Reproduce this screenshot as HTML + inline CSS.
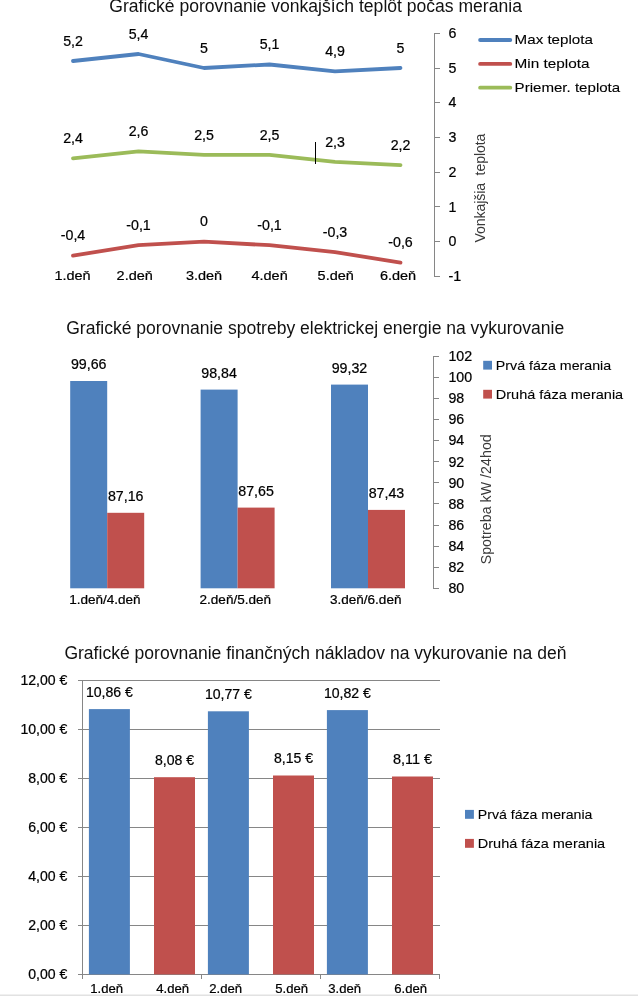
<!DOCTYPE html>
<html lang="sk"><head><meta charset="utf-8"><title>Grafické porovnanie</title>
<style>
html,body{margin:0;padding:0;background:#fff}
svg{display:block}
text{font-family:"Liberation Sans",sans-serif}
</style></head><body>
<svg width="638" height="996" viewBox="0 0 638 996">
<rect width="638" height="996" fill="#fff"/>
<text x="315.6" y="12.2" font-size="17.5" text-anchor="middle" fill="#111" stroke="#111" stroke-width="0" textLength="412.6" lengthAdjust="spacingAndGlyphs">Grafické porovnanie vonkajších teplôt počas merania</text>
<line x1="434.0" y1="33.0" x2="434.0" y2="277.0" stroke="#868686" stroke-width="1" shape-rendering="crispEdges"/>
<line x1="434.0" y1="33.2" x2="439.5" y2="33.2" stroke="#868686" stroke-width="1" shape-rendering="crispEdges"/>
<text x="448.6" y="37.9" font-size="14.1" text-anchor="start" fill="#000" stroke="#000" stroke-width="0.22" textLength="7.9" lengthAdjust="spacingAndGlyphs">6</text>
<line x1="434.0" y1="68.0" x2="439.5" y2="68.0" stroke="#868686" stroke-width="1" shape-rendering="crispEdges"/>
<text x="448.6" y="72.7" font-size="14.1" text-anchor="start" fill="#000" stroke="#000" stroke-width="0.22" textLength="7.9" lengthAdjust="spacingAndGlyphs">5</text>
<line x1="434.0" y1="102.7" x2="439.5" y2="102.7" stroke="#868686" stroke-width="1" shape-rendering="crispEdges"/>
<text x="448.6" y="107.4" font-size="14.1" text-anchor="start" fill="#000" stroke="#000" stroke-width="0.22" textLength="7.9" lengthAdjust="spacingAndGlyphs">4</text>
<line x1="434.0" y1="137.4" x2="439.5" y2="137.4" stroke="#868686" stroke-width="1" shape-rendering="crispEdges"/>
<text x="448.6" y="142.1" font-size="14.1" text-anchor="start" fill="#000" stroke="#000" stroke-width="0.22" textLength="7.9" lengthAdjust="spacingAndGlyphs">3</text>
<line x1="434.0" y1="172.2" x2="439.5" y2="172.2" stroke="#868686" stroke-width="1" shape-rendering="crispEdges"/>
<text x="448.6" y="176.9" font-size="14.1" text-anchor="start" fill="#000" stroke="#000" stroke-width="0.22" textLength="7.9" lengthAdjust="spacingAndGlyphs">2</text>
<line x1="434.0" y1="206.9" x2="439.5" y2="206.9" stroke="#868686" stroke-width="1" shape-rendering="crispEdges"/>
<text x="448.6" y="211.6" font-size="14.1" text-anchor="start" fill="#000" stroke="#000" stroke-width="0.22" textLength="7.9" lengthAdjust="spacingAndGlyphs">1</text>
<line x1="434.0" y1="241.7" x2="439.5" y2="241.7" stroke="#868686" stroke-width="1" shape-rendering="crispEdges"/>
<text x="448.6" y="246.4" font-size="14.1" text-anchor="start" fill="#000" stroke="#000" stroke-width="0.22" textLength="7.9" lengthAdjust="spacingAndGlyphs">0</text>
<line x1="434.0" y1="276.4" x2="439.5" y2="276.4" stroke="#868686" stroke-width="1" shape-rendering="crispEdges"/>
<text x="448.6" y="281.1" font-size="14.1" text-anchor="start" fill="#000" stroke="#000" stroke-width="0.22" textLength="12.7" lengthAdjust="spacingAndGlyphs">-1</text>
<text transform="translate(485,242.6) rotate(-90)" font-size="14.15" fill="#3a3a3a" textLength="109" lengthAdjust="spacing" style="white-space:pre">Vonkajšia  teplota</text>
<polyline points="73.0,61.0 138.5,54.0 204.0,68.0 269.5,64.5 335.0,71.4 400.5,68.0" fill="none" stroke="#4F81BD" stroke-width="3.8" stroke-linecap="round" stroke-linejoin="round"/>
<text x="73.0" y="45.7" font-size="14.1" text-anchor="middle" fill="#000" stroke="#000" stroke-width="0.22" textLength="19.7" lengthAdjust="spacingAndGlyphs">5,2</text>
<text x="138.5" y="38.7" font-size="14.1" text-anchor="middle" fill="#000" stroke="#000" stroke-width="0.22" textLength="19.7" lengthAdjust="spacingAndGlyphs">5,4</text>
<text x="204.0" y="52.7" font-size="14.1" text-anchor="middle" fill="#000" stroke="#000" stroke-width="0.22" textLength="7.9" lengthAdjust="spacingAndGlyphs">5</text>
<text x="269.5" y="49.2" font-size="14.1" text-anchor="middle" fill="#000" stroke="#000" stroke-width="0.22" textLength="19.7" lengthAdjust="spacingAndGlyphs">5,1</text>
<text x="335.0" y="56.1" font-size="14.1" text-anchor="middle" fill="#000" stroke="#000" stroke-width="0.22" textLength="19.7" lengthAdjust="spacingAndGlyphs">4,9</text>
<text x="400.5" y="52.7" font-size="14.1" text-anchor="middle" fill="#000" stroke="#000" stroke-width="0.22" textLength="7.9" lengthAdjust="spacingAndGlyphs">5</text>
<polyline points="73.0,255.6 138.5,245.2 204.0,241.7 269.5,245.2 335.0,252.1 400.5,262.6" fill="none" stroke="#C0504D" stroke-width="3.8" stroke-linecap="round" stroke-linejoin="round"/>
<text x="73.0" y="240.3" font-size="14.1" text-anchor="middle" fill="#000" stroke="#000" stroke-width="0.22" textLength="24.5" lengthAdjust="spacingAndGlyphs">-0,4</text>
<text x="138.5" y="229.9" font-size="14.1" text-anchor="middle" fill="#000" stroke="#000" stroke-width="0.22" textLength="24.5" lengthAdjust="spacingAndGlyphs">-0,1</text>
<text x="204.0" y="226.4" font-size="14.1" text-anchor="middle" fill="#000" stroke="#000" stroke-width="0.22" textLength="7.9" lengthAdjust="spacingAndGlyphs">0</text>
<text x="269.5" y="229.9" font-size="14.1" text-anchor="middle" fill="#000" stroke="#000" stroke-width="0.22" textLength="24.5" lengthAdjust="spacingAndGlyphs">-0,1</text>
<text x="335.0" y="236.8" font-size="14.1" text-anchor="middle" fill="#000" stroke="#000" stroke-width="0.22" textLength="24.5" lengthAdjust="spacingAndGlyphs">-0,3</text>
<text x="400.5" y="247.2" font-size="14.1" text-anchor="middle" fill="#000" stroke="#000" stroke-width="0.22" textLength="24.5" lengthAdjust="spacingAndGlyphs">-0,6</text>
<polyline points="73.0,158.3 138.5,151.3 204.0,154.8 269.5,154.8 335.0,161.8 400.5,165.2" fill="none" stroke="#9BBB59" stroke-width="3.8" stroke-linecap="round" stroke-linejoin="round"/>
<text x="73.0" y="143.0" font-size="14.1" text-anchor="middle" fill="#000" stroke="#000" stroke-width="0.22" textLength="19.7" lengthAdjust="spacingAndGlyphs">2,4</text>
<text x="138.5" y="136.0" font-size="14.1" text-anchor="middle" fill="#000" stroke="#000" stroke-width="0.22" textLength="19.7" lengthAdjust="spacingAndGlyphs">2,6</text>
<text x="204.0" y="139.5" font-size="14.1" text-anchor="middle" fill="#000" stroke="#000" stroke-width="0.22" textLength="19.7" lengthAdjust="spacingAndGlyphs">2,5</text>
<text x="269.5" y="139.5" font-size="14.1" text-anchor="middle" fill="#000" stroke="#000" stroke-width="0.22" textLength="19.7" lengthAdjust="spacingAndGlyphs">2,5</text>
<text x="335.0" y="146.5" font-size="14.1" text-anchor="middle" fill="#000" stroke="#000" stroke-width="0.22" textLength="19.7" lengthAdjust="spacingAndGlyphs">2,3</text>
<text x="400.5" y="149.9" font-size="14.1" text-anchor="middle" fill="#000" stroke="#000" stroke-width="0.22" textLength="19.7" lengthAdjust="spacingAndGlyphs">2,2</text>
<line x1="315.5" y1="142.0" x2="315.5" y2="163.5" stroke="#000" stroke-width="1" shape-rendering="crispEdges"/>
<text x="72.5" y="279.7" font-size="13.4" text-anchor="middle" fill="#000" stroke="#000" stroke-width="0.22" textLength="36.2" lengthAdjust="spacingAndGlyphs">1.deň</text>
<text x="134.7" y="279.7" font-size="13.4" text-anchor="middle" fill="#000" stroke="#000" stroke-width="0.22" textLength="36.2" lengthAdjust="spacingAndGlyphs">2.deň</text>
<text x="204.0" y="279.7" font-size="13.4" text-anchor="middle" fill="#000" stroke="#000" stroke-width="0.22" textLength="36.2" lengthAdjust="spacingAndGlyphs">3.deň</text>
<text x="269.6" y="279.7" font-size="13.4" text-anchor="middle" fill="#000" stroke="#000" stroke-width="0.22" textLength="36.2" lengthAdjust="spacingAndGlyphs">4.deň</text>
<text x="335.7" y="279.7" font-size="13.4" text-anchor="middle" fill="#000" stroke="#000" stroke-width="0.22" textLength="36.2" lengthAdjust="spacingAndGlyphs">5.deň</text>
<text x="398.0" y="279.7" font-size="13.4" text-anchor="middle" fill="#000" stroke="#000" stroke-width="0.22" textLength="36.2" lengthAdjust="spacingAndGlyphs">6.deň</text>
<line x1="480.1" y1="40.0" x2="510.3" y2="40.0" stroke="#4F81BD" stroke-width="3.8" stroke-linecap="round"/>
<text x="514.6" y="44.4" font-size="13.4" text-anchor="start" fill="#000" stroke="#000" stroke-width="0.1" textLength="78.3" lengthAdjust="spacingAndGlyphs">Max teplota</text>
<line x1="480.1" y1="63.9" x2="510.3" y2="63.9" stroke="#C0504D" stroke-width="3.8" stroke-linecap="round"/>
<text x="514.6" y="68.2" font-size="13.4" text-anchor="start" fill="#000" stroke="#000" stroke-width="0.1" textLength="75.0" lengthAdjust="spacingAndGlyphs">Min teplota</text>
<line x1="480.1" y1="87.7" x2="510.3" y2="87.7" stroke="#9BBB59" stroke-width="3.8" stroke-linecap="round"/>
<text x="514.6" y="92.1" font-size="13.4" text-anchor="start" fill="#000" stroke="#000" stroke-width="0.1" textLength="105.6" lengthAdjust="spacingAndGlyphs">Priemer. teplota</text>
<text x="315.2" y="333.7" font-size="17.5" text-anchor="middle" fill="#111" stroke="#111" stroke-width="0" textLength="498.0" lengthAdjust="spacingAndGlyphs">Grafické porovnanie spotreby elektrickej energie na vykurovanie</text>
<line x1="433.5" y1="356.0" x2="433.5" y2="589.0" stroke="#868686" stroke-width="1" shape-rendering="crispEdges"/>
<line x1="433.5" y1="356.3" x2="439.0" y2="356.3" stroke="#868686" stroke-width="1" shape-rendering="crispEdges"/>
<text x="448.4" y="361.0" font-size="14.1" text-anchor="start" fill="#000" stroke="#000" stroke-width="0.22" textLength="23.7" lengthAdjust="spacingAndGlyphs">102</text>
<line x1="433.5" y1="377.4" x2="439.0" y2="377.4" stroke="#868686" stroke-width="1" shape-rendering="crispEdges"/>
<text x="448.4" y="382.1" font-size="14.1" text-anchor="start" fill="#000" stroke="#000" stroke-width="0.22" textLength="23.7" lengthAdjust="spacingAndGlyphs">100</text>
<line x1="433.5" y1="398.5" x2="439.0" y2="398.5" stroke="#868686" stroke-width="1" shape-rendering="crispEdges"/>
<text x="448.4" y="403.2" font-size="14.1" text-anchor="start" fill="#000" stroke="#000" stroke-width="0.22" textLength="15.8" lengthAdjust="spacingAndGlyphs">98</text>
<line x1="433.5" y1="419.6" x2="439.0" y2="419.6" stroke="#868686" stroke-width="1" shape-rendering="crispEdges"/>
<text x="448.4" y="424.3" font-size="14.1" text-anchor="start" fill="#000" stroke="#000" stroke-width="0.22" textLength="15.8" lengthAdjust="spacingAndGlyphs">96</text>
<line x1="433.5" y1="440.7" x2="439.0" y2="440.7" stroke="#868686" stroke-width="1" shape-rendering="crispEdges"/>
<text x="448.4" y="445.4" font-size="14.1" text-anchor="start" fill="#000" stroke="#000" stroke-width="0.22" textLength="15.8" lengthAdjust="spacingAndGlyphs">94</text>
<line x1="433.5" y1="461.8" x2="439.0" y2="461.8" stroke="#868686" stroke-width="1" shape-rendering="crispEdges"/>
<text x="448.4" y="466.5" font-size="14.1" text-anchor="start" fill="#000" stroke="#000" stroke-width="0.22" textLength="15.8" lengthAdjust="spacingAndGlyphs">92</text>
<line x1="433.5" y1="482.8" x2="439.0" y2="482.8" stroke="#868686" stroke-width="1" shape-rendering="crispEdges"/>
<text x="448.4" y="487.5" font-size="14.1" text-anchor="start" fill="#000" stroke="#000" stroke-width="0.22" textLength="15.8" lengthAdjust="spacingAndGlyphs">90</text>
<line x1="433.5" y1="503.9" x2="439.0" y2="503.9" stroke="#868686" stroke-width="1" shape-rendering="crispEdges"/>
<text x="448.4" y="508.6" font-size="14.1" text-anchor="start" fill="#000" stroke="#000" stroke-width="0.22" textLength="15.8" lengthAdjust="spacingAndGlyphs">88</text>
<line x1="433.5" y1="525.0" x2="439.0" y2="525.0" stroke="#868686" stroke-width="1" shape-rendering="crispEdges"/>
<text x="448.4" y="529.7" font-size="14.1" text-anchor="start" fill="#000" stroke="#000" stroke-width="0.22" textLength="15.8" lengthAdjust="spacingAndGlyphs">86</text>
<line x1="433.5" y1="546.1" x2="439.0" y2="546.1" stroke="#868686" stroke-width="1" shape-rendering="crispEdges"/>
<text x="448.4" y="550.8" font-size="14.1" text-anchor="start" fill="#000" stroke="#000" stroke-width="0.22" textLength="15.8" lengthAdjust="spacingAndGlyphs">84</text>
<line x1="433.5" y1="567.2" x2="439.0" y2="567.2" stroke="#868686" stroke-width="1" shape-rendering="crispEdges"/>
<text x="448.4" y="571.9" font-size="14.1" text-anchor="start" fill="#000" stroke="#000" stroke-width="0.22" textLength="15.8" lengthAdjust="spacingAndGlyphs">82</text>
<line x1="433.5" y1="588.3" x2="439.0" y2="588.3" stroke="#868686" stroke-width="1" shape-rendering="crispEdges"/>
<text x="448.4" y="593.0" font-size="14.1" text-anchor="start" fill="#000" stroke="#000" stroke-width="0.22" textLength="15.8" lengthAdjust="spacingAndGlyphs">80</text>
<text transform="translate(491,564.3) rotate(-90)" font-size="14.15" fill="#3a3a3a" textLength="130" lengthAdjust="spacing">Spotreba kW /24hod</text>
<rect x="70.2" y="381.0" width="37.0" height="207.3" fill="#4F81BD"/>
<rect x="107.2" y="512.8" width="37.0" height="75.5" fill="#C0504D"/>
<text x="88.7" y="368.9" font-size="14.1" text-anchor="middle" fill="#000" stroke="#000" stroke-width="0.22" textLength="35.6" lengthAdjust="spacingAndGlyphs">99,66</text>
<text x="125.7" y="500.7" font-size="14.1" text-anchor="middle" fill="#000" stroke="#000" stroke-width="0.22" textLength="35.6" lengthAdjust="spacingAndGlyphs">87,16</text>
<text x="104.9" y="603.6" font-size="12.7" text-anchor="middle" fill="#000" stroke="#000" stroke-width="0.22" textLength="71.5" lengthAdjust="spacingAndGlyphs">1.deň/4.deň</text>
<rect x="200.6" y="389.6" width="37.0" height="198.7" fill="#4F81BD"/>
<rect x="237.6" y="507.6" width="37.0" height="80.7" fill="#C0504D"/>
<text x="219.1" y="377.5" font-size="14.1" text-anchor="middle" fill="#000" stroke="#000" stroke-width="0.22" textLength="35.6" lengthAdjust="spacingAndGlyphs">98,84</text>
<text x="256.1" y="495.5" font-size="14.1" text-anchor="middle" fill="#000" stroke="#000" stroke-width="0.22" textLength="35.6" lengthAdjust="spacingAndGlyphs">87,65</text>
<text x="235.3" y="603.6" font-size="12.7" text-anchor="middle" fill="#000" stroke="#000" stroke-width="0.22" textLength="71.5" lengthAdjust="spacingAndGlyphs">2.deň/5.deň</text>
<rect x="331.0" y="384.6" width="37.0" height="203.7" fill="#4F81BD"/>
<rect x="368.0" y="509.9" width="37.0" height="78.4" fill="#C0504D"/>
<text x="349.5" y="372.5" font-size="14.1" text-anchor="middle" fill="#000" stroke="#000" stroke-width="0.22" textLength="35.6" lengthAdjust="spacingAndGlyphs">99,32</text>
<text x="386.5" y="497.8" font-size="14.1" text-anchor="middle" fill="#000" stroke="#000" stroke-width="0.22" textLength="35.6" lengthAdjust="spacingAndGlyphs">87,43</text>
<text x="365.7" y="603.6" font-size="12.7" text-anchor="middle" fill="#000" stroke="#000" stroke-width="0.22" textLength="71.5" lengthAdjust="spacingAndGlyphs">3.deň/6.deň</text>
<rect x="483.2" y="360.8" width="8.8" height="8.8" fill="#4F81BD"/>
<text x="495.8" y="369.5" font-size="13.4" text-anchor="start" fill="#000" stroke="#000" stroke-width="0.1" textLength="115.4" lengthAdjust="spacingAndGlyphs">Prvá fáza merania</text>
<rect x="483.2" y="389.8" width="8.8" height="8.8" fill="#C0504D"/>
<text x="495.8" y="398.5" font-size="13.4" text-anchor="start" fill="#000" stroke="#000" stroke-width="0.1" textLength="127.4" lengthAdjust="spacingAndGlyphs">Druhá fáza merania</text>
<text x="315.4" y="658.6" font-size="17.5" text-anchor="middle" fill="#111" stroke="#111" stroke-width="0" textLength="502.0" lengthAdjust="spacingAndGlyphs">Grafické porovnanie finančných nákladov na vykurovanie na deň</text>
<line x1="77.5" y1="974.4" x2="439.6" y2="974.4" stroke="#868686" stroke-width="1" shape-rendering="crispEdges"/>
<text x="67.4" y="978.9" font-size="14.1" text-anchor="end" fill="#000" stroke="#000" stroke-width="0.22" textLength="39.1" lengthAdjust="spacingAndGlyphs">0,00 €</text>
<line x1="77.5" y1="925.4" x2="439.6" y2="925.4" stroke="#868686" stroke-width="1" shape-rendering="crispEdges"/>
<text x="67.4" y="929.9" font-size="14.1" text-anchor="end" fill="#000" stroke="#000" stroke-width="0.22" textLength="39.1" lengthAdjust="spacingAndGlyphs">2,00 €</text>
<line x1="77.5" y1="876.4" x2="439.6" y2="876.4" stroke="#868686" stroke-width="1" shape-rendering="crispEdges"/>
<text x="67.4" y="880.9" font-size="14.1" text-anchor="end" fill="#000" stroke="#000" stroke-width="0.22" textLength="39.1" lengthAdjust="spacingAndGlyphs">4,00 €</text>
<line x1="77.5" y1="827.3" x2="439.6" y2="827.3" stroke="#868686" stroke-width="1" shape-rendering="crispEdges"/>
<text x="67.4" y="831.8" font-size="14.1" text-anchor="end" fill="#000" stroke="#000" stroke-width="0.22" textLength="39.1" lengthAdjust="spacingAndGlyphs">6,00 €</text>
<line x1="77.5" y1="778.3" x2="439.6" y2="778.3" stroke="#868686" stroke-width="1" shape-rendering="crispEdges"/>
<text x="67.4" y="782.8" font-size="14.1" text-anchor="end" fill="#000" stroke="#000" stroke-width="0.22" textLength="39.1" lengthAdjust="spacingAndGlyphs">8,00 €</text>
<line x1="77.5" y1="729.3" x2="439.6" y2="729.3" stroke="#868686" stroke-width="1" shape-rendering="crispEdges"/>
<text x="67.4" y="733.8" font-size="14.1" text-anchor="end" fill="#000" stroke="#000" stroke-width="0.22" textLength="47.0" lengthAdjust="spacingAndGlyphs">10,00 €</text>
<line x1="77.5" y1="680.3" x2="439.6" y2="680.3" stroke="#868686" stroke-width="1" shape-rendering="crispEdges"/>
<text x="67.4" y="684.8" font-size="14.1" text-anchor="end" fill="#000" stroke="#000" stroke-width="0.22" textLength="47.0" lengthAdjust="spacingAndGlyphs">12,00 €</text>
<line x1="82.7" y1="680.0" x2="82.7" y2="979.0" stroke="#868686" stroke-width="1" shape-rendering="crispEdges"/>
<line x1="201.7" y1="974.0" x2="201.7" y2="979.0" stroke="#868686" stroke-width="1" shape-rendering="crispEdges"/>
<line x1="320.7" y1="974.0" x2="320.7" y2="979.0" stroke="#868686" stroke-width="1" shape-rendering="crispEdges"/>
<line x1="439.7" y1="974.0" x2="439.7" y2="979.0" stroke="#868686" stroke-width="1" shape-rendering="crispEdges"/>
<rect x="88.9" y="709.1" width="41.0" height="265.3" fill="#4F81BD"/>
<rect x="154.0" y="777.2" width="41.0" height="197.2" fill="#C0504D"/>
<text x="109.4" y="696.6" font-size="14.1" text-anchor="middle" fill="#000" stroke="#000" stroke-width="0.22" textLength="47.0" lengthAdjust="spacingAndGlyphs">10,86 €</text>
<text x="174.5" y="764.8" font-size="14.1" text-anchor="middle" fill="#000" stroke="#000" stroke-width="0.22" textLength="39.1" lengthAdjust="spacingAndGlyphs">8,08 €</text>
<text x="106.7" y="993.1" font-size="12.2" text-anchor="middle" fill="#000" stroke="#000" stroke-width="0.22" textLength="32.8" lengthAdjust="spacingAndGlyphs">1.deň</text>
<text x="172.7" y="993.1" font-size="12.2" text-anchor="middle" fill="#000" stroke="#000" stroke-width="0.22" textLength="32.8" lengthAdjust="spacingAndGlyphs">4.deň</text>
<rect x="207.9" y="711.3" width="41.0" height="263.1" fill="#4F81BD"/>
<rect x="273.0" y="775.5" width="41.0" height="198.9" fill="#C0504D"/>
<text x="228.4" y="698.8" font-size="14.1" text-anchor="middle" fill="#000" stroke="#000" stroke-width="0.22" textLength="47.0" lengthAdjust="spacingAndGlyphs">10,77 €</text>
<text x="293.5" y="763.1" font-size="14.1" text-anchor="middle" fill="#000" stroke="#000" stroke-width="0.22" textLength="39.1" lengthAdjust="spacingAndGlyphs">8,15 €</text>
<text x="225.7" y="993.1" font-size="12.2" text-anchor="middle" fill="#000" stroke="#000" stroke-width="0.22" textLength="32.8" lengthAdjust="spacingAndGlyphs">2.deň</text>
<text x="291.7" y="993.1" font-size="12.2" text-anchor="middle" fill="#000" stroke="#000" stroke-width="0.22" textLength="32.8" lengthAdjust="spacingAndGlyphs">5.deň</text>
<rect x="326.9" y="710.1" width="41.0" height="264.3" fill="#4F81BD"/>
<rect x="392.0" y="776.5" width="41.0" height="197.9" fill="#C0504D"/>
<text x="347.4" y="697.6" font-size="14.1" text-anchor="middle" fill="#000" stroke="#000" stroke-width="0.22" textLength="47.0" lengthAdjust="spacingAndGlyphs">10,82 €</text>
<text x="412.5" y="764.0" font-size="14.1" text-anchor="middle" fill="#000" stroke="#000" stroke-width="0.22" textLength="39.1" lengthAdjust="spacingAndGlyphs">8,11 €</text>
<text x="344.7" y="993.1" font-size="12.2" text-anchor="middle" fill="#000" stroke="#000" stroke-width="0.22" textLength="32.8" lengthAdjust="spacingAndGlyphs">3.deň</text>
<text x="410.7" y="993.1" font-size="12.2" text-anchor="middle" fill="#000" stroke="#000" stroke-width="0.22" textLength="32.8" lengthAdjust="spacingAndGlyphs">6.deň</text>
<rect x="465.0" y="809.9" width="8.9" height="8.9" fill="#4F81BD"/>
<text x="477.8" y="818.8" font-size="13.4" text-anchor="start" fill="#000" stroke="#000" stroke-width="0.1" textLength="114.6" lengthAdjust="spacingAndGlyphs">Prvá fáza merania</text>
<rect x="465.0" y="838.9" width="8.9" height="8.9" fill="#C0504D"/>
<text x="477.8" y="847.8" font-size="13.4" text-anchor="start" fill="#000" stroke="#000" stroke-width="0.1" textLength="127.4" lengthAdjust="spacingAndGlyphs">Druhá fáza merania</text>
<rect x="0.0" y="994.0" width="638.0" height="1.0" fill="#f0f0f0"/>
<rect x="0.0" y="995.0" width="638.0" height="1.0" fill="#e2e2e2"/>
</svg>
</body></html>
